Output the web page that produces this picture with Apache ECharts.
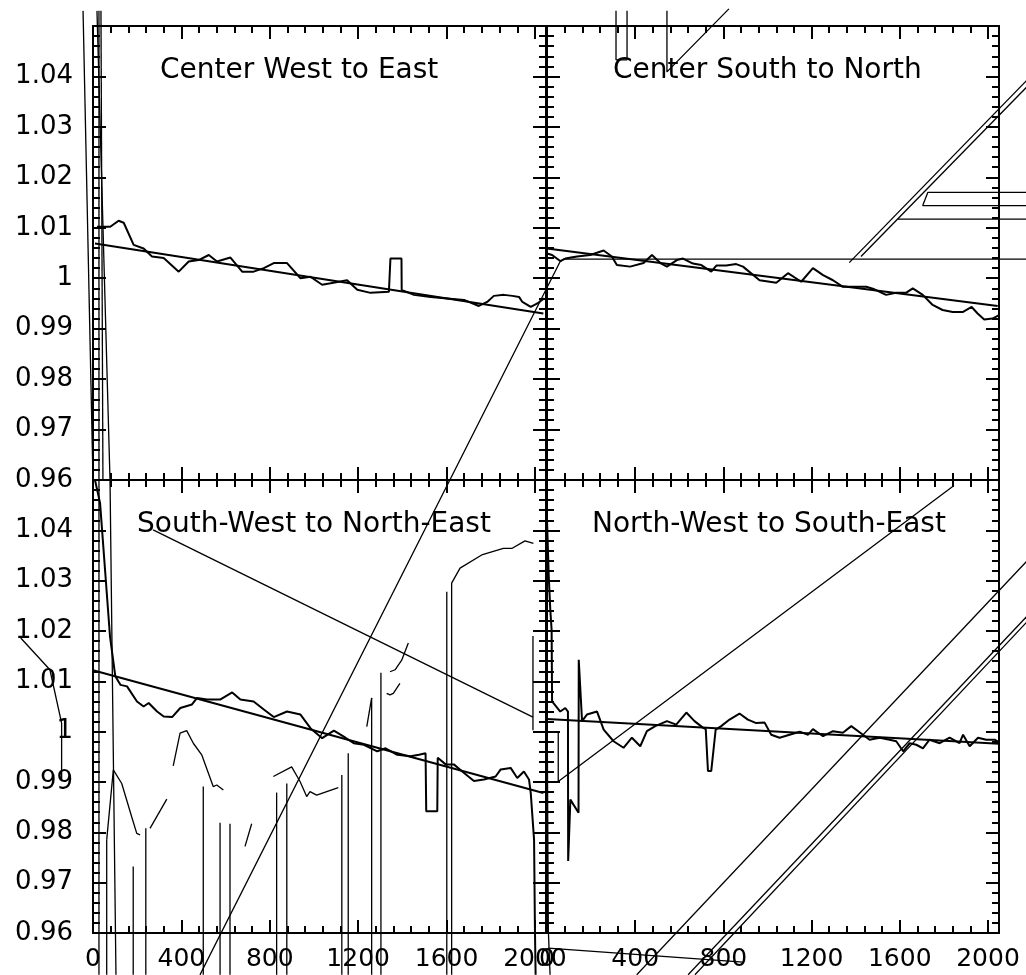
<!DOCTYPE html>
<html>
<head>
<meta charset="utf-8">
<script src="https://cdn.jsdelivr.net/npm/echarts@6/dist/echarts.min.js"></script>
<style>
  html, body { margin: 0; padding: 0; background: #fff; }
  #chart { width: 1026px; height: 975px; }
</style>
</head>
<body>
<div id="chart"></div>
<script>
// ---- axis ranges and ticks ----
const xMin = 0, xMax = 2050;
const xMajorStep = 400, xMinorStep = 80;
const yMin = 0.96, yMax = 1.05, yStep = 0.01;

// ---- panel titles ----
const titles = [
  'Center West to East',
  'Center South to North',
  'South-West to North-East',
  'North-West to South-East'
];

// ---- profiles: [position, ratio] ----
const centerWestEast = [
  [18,1.0102],[33,1.0102],[78,1.0102],[116,1.0114],[139,1.0110],[184,1.0066],[229,1.0059],
  [267,1.0043],[320,1.0040],[388,1.0013],[433,1.0033],[478,1.0036],[524,1.0046],[561,1.0033],
  [622,1.0041],[675,1.0013],[727,1.0013],[773,1.0020],[818,1.0030],[878,1.0030],[939,1.0000],
  [984,1.0003],[1037,0.9987],[1075,0.9990],[1150,0.9996],[1196,0.9977],[1256,0.9971],[1339,0.9973],
  [1345,0.9973],[1346,1.0039],[1396,1.0039],[1397,0.9977],[1452,0.9967],[1528,0.9963],[1603,0.9960],
  [1679,0.9957],[1746,0.9945],[1784,0.9953],[1814,0.9965],[1860,0.9967],[1898,0.9965],[1928,0.9963],
  [1943,0.9953],[1981,0.9943],[2011,0.9950],[2041,0.9960]
];
const centerSouthNorth = [
  [0,1.0049],[23,1.0046],[60,1.0034],[83,1.0039],[136,1.0043],[196,1.0046],[257,1.0055],[294,1.0043],
  [317,1.0026],[377,1.0023],[438,1.0030],[476,1.0046],[514,1.0030],[544,1.0023],[589,1.0036],
  [617,1.0039],[662,1.0029],[700,1.0026],[745,1.0013],[768,1.0025],[813,1.0025],[858,1.0028],
  [889,1.0023],[964,0.9996],[1010,0.9993],[1040,0.9991],[1093,1.0010],[1153,0.9993],[1206,1.0020],
  [1252,1.0006],[1297,0.9996],[1342,0.9983],[1388,0.9983],[1448,0.9983],[1485,0.9978],[1538,0.9967],
  [1583,0.9971],[1628,0.9971],[1659,0.9980],[1704,0.9967],[1749,0.9947],[1794,0.9937],[1840,0.9933],
  [1885,0.9933],[1926,0.9943],[1953,0.9930],[1983,0.9918],[2021,0.9920],[2050,0.9927]
];
const southWestNorthEast = [
  [9,1.0500],[32,1.0454],[77,1.0189],[101,1.0110],[124,1.0093],[154,1.0090],[199,1.0060],[229,1.0050],
  [252,1.0057],[290,1.0040],[320,1.0030],[358,1.0029],[395,1.0047],[448,1.0054],[471,1.0067],
  [516,1.0064],[577,1.0064],[630,1.0078],[667,1.0064],[727,1.0060],[773,1.0044],[818,1.0029],
  [878,1.0040],[939,1.0034],[984,1.0007],[1037,0.9987],[1090,1.0002],[1135,0.9990],[1180,0.9977],
  [1226,0.9974],[1286,0.9961],[1324,0.9967],[1377,0.9954],[1437,0.9951],[1475,0.9954],[1505,0.9957],
  [1508,0.9842],[1558,0.9842],[1560,0.9948],[1596,0.9935],[1633,0.9935],[1671,0.9921],[1724,0.9902],
  [1769,0.9905],[1822,0.9911],[1845,0.9925],[1890,0.9928],[1920,0.9908],[1950,0.9921],[1973,0.9905],
  [1981,0.9878],[1996,0.9785],[2000,0.9606],[2003,0.9517]
];
const northWestSouthEast = [
  [0,1.0421],[8,1.0308],[15,1.0242],[21,1.0202],[23,1.0060],[60,1.0040],[83,1.0047],[95,1.0040],[96,0.9743],
  [106,0.9865],[143,0.9839],[144,1.0143],[159,1.0021],[181,1.0034],[227,1.0040],[257,1.0004],
  [302,0.9981],[347,0.9968],[385,0.9988],[423,0.9971],[453,1.0001],[491,1.0011],[544,1.0021],
  [586,1.0014],[632,1.0038],[669,1.0021],[707,1.0008],[720,1.0005],[730,0.9922],[745,0.9922],
  [765,1.0004],[790,1.0011],[828,1.0024],[873,1.0036],[911,1.0024],[949,1.0017],[987,1.0018],
  [1017,0.9994],[1055,0.9988],[1100,0.9994],[1146,1.0000],[1184,0.9994],[1206,1.0005],[1252,0.9991],
  [1297,1.0001],[1342,0.9998],[1380,1.0011],[1433,0.9994],[1463,0.9984],[1509,0.9988],[1554,0.9984],
  [1584,0.9981],[1615,0.9961],[1645,0.9977],[1675,0.9974],[1705,0.9967],[1735,0.9984],[1781,0.9977],
  [1826,0.9988],[1871,0.9977],[1887,0.9994],[1917,0.9971],[1955,0.9988],[1992,0.9984],[2030,0.9984],
  [2050,0.9979]
];

// ---- fitted straight lines ----
const fitWestEast = [[9,1.0069],[2038,0.9930]];
const fitSouthNorth = [[0,1.0059],[2044,0.9945]];
const fitSWNE = [[0,1.0122],[2038,0.9878]];
const fitNWSE = [[0,1.0025],[2050,0.9976]];

// ---- extra traces, in each panel's own units, drawn without clipping ----
const tracesTopLeft = [
  [[-45,1.0530],[0,0.9600]],
  [[18,1.0530],[77,0.9600],[104,0.8619]],
  [[27,1.0530],[27,0.8619]],
  [[36,1.0530],[45,0.9600]],
  [[484,0.8619],[2113,1.0032],[2131,1.0038],[4300,1.0038]]
];
const tracesTopRight = [
  [[1371,1.0031],[2200,1.0403]],
  [[1424,1.0043],[2200,1.0390]],
  [[2200,1.0170],[1727,1.0170],[1704,1.0144],[2200,1.0144]],
  [[1591,1.0117],[2200,1.0117]],
  [[313,1.0530],[313,1.0433],[363,1.0433],[363,1.0530]],
  [[544,1.0530],[544,1.0409],[825,1.0534]]
];
const tracesBottomLeft = [
  [[272,1.0401],[1991,1.0029]],
  [[1991,1.0190],[1991,1.0003]],
  [[1623,0.9517],[1623,1.0295],[1661,1.0325],[1759,1.0351],[1857,1.0364],[1895,1.0364],[1955,1.0379],[1993,1.0374]],
  [[1601,1.0278],[1601,0.9517]],
  [[-327,1.0186],[-195,1.0123],[-142,1.0017],[-142,0.9904]],
  [[62,0.9785],[92,0.9924],[130,0.9897],[175,0.9831],[198,0.9798],[213,0.9795]],
  [[258,0.9808],[334,0.9866]],
  [[363,0.9932],[394,0.9997],[424,1.0002],[454,0.9977],[492,0.9954],[544,0.9891],[560,0.9894],[590,0.9884]],
  [[688,0.9772],[718,0.9817]],
  [[816,0.9911],[899,0.9930],[937,0.9901],[967,0.9871],[982,0.9881],[1012,0.9874],[1110,0.9889]],
  [[1427,1.0176],[1397,1.0142],[1367,1.0123],[1344,1.0119]],
  [[1389,1.0096],[1359,1.0076],[1344,1.0073],[1329,1.0076]],
  [[1261,1.0067],[1239,1.0010]]
];
// vertical drop lines in the lower-left panel: position and top value
const dropX   = [62, 182, 239, 499, 575, 620, 831, 877, 1126, 1155, 1261, 1303];
const dropTop = [0.9785, 0.9732, 0.9808, 0.9891, 0.9819, 0.9817, 0.9879, 0.9897, 0.9914, 0.9957, 1.0067, 1.0117];
const dropBottom = 0.9517;
const tracesBottomRight = [
  [[5,0.9570],[889,0.9542]],
  [[-1,1.0182],[6,0.9606],[14,0.9517]],
  [[51,0.9999],[51,0.9901],[1840,1.0487]],
  [[407,0.9517],[2200,1.0350]],
  [[640,0.9517],[2200,1.0240]],
  [[671,0.9517],[2200,1.0229]]
];

// ---- layout ----
const W = 1026, H = 975;
const FONT = 'DejaVu Sans';
const layout = [
  { left: 93,  top: 26,  width: 453, height: 454, xLabels: false, yLabels: true,  titleAt: [160, 57] },
  { left: 547, top: 26,  width: 452, height: 454, xLabels: false, yLabels: false, titleAt: [613, 57] },
  { left: 93,  top: 480, width: 453, height: 453, xLabels: true,  yLabels: true,  titleAt: [137, 511] },
  { left: 547, top: 480, width: 452, height: 453, xLabels: true,  yLabels: false, titleAt: [592, 511] }
];
const panelCurves = [centerWestEast, centerSouthNorth, southWestNorthEast, northWestSouthEast];
const panelFits = [fitWestEast, fitSouthNorth, fitSWNE, fitNWSE];
const panelTraces = [tracesTopLeft, tracesTopRight,
  tracesBottomLeft.concat(dropX.map((x, i) => [[x, dropTop[i]], [x, dropBottom]])),
  tracesBottomRight];

const black = { color: '#000', width: 2 };

function xAxesFor(g, showLabels) {
  const base = {
    type: 'value', gridIndex: g, min: xMin, max: xMax,
    splitLine: { show: false },
    axisLine: { show: true, onZero: false, lineStyle: black }
  };
  const major = { inside: true, length: 13, lineStyle: black };
  const minor = { inside: true, length: 7, lineStyle: black };
  return [
    Object.assign({}, base, {
      position: 'bottom', interval: xMajorStep, axisTick: major,
      axisLabel: {
        show: showLabels, margin: 14, color: '#000', fontFamily: FONT, fontSize: 25,
        formatter: v => (v % xMajorStep === 0 ? String(v) : '')
      }
    }),
    Object.assign({}, base, { position: 'bottom', interval: xMinorStep, axisLine: { show: false, onZero: false }, axisTick: minor, axisLabel: { show: false } }),
    Object.assign({}, base, { position: 'top', interval: xMajorStep, axisTick: major, axisLabel: { show: false } }),
    Object.assign({}, base, { position: 'top', interval: xMinorStep, axisLine: { show: false, onZero: false }, axisTick: minor, axisLabel: { show: false } })
  ];
}

function yAxesFor(g, showLabels) {
  const base = {
    type: 'value', gridIndex: g, min: yMin, max: yMax, interval: yStep,
    splitLine: { show: false },
    axisLine: { show: true, onZero: false, lineStyle: black },
    axisTick: { inside: true, length: 13, lineStyle: black },
    minorTick: { show: true, splitNumber: 5, length: 7, lineStyle: black }
  };
  return [
    Object.assign({}, base, {
      position: 'left',
      axisLabel: {
        show: showLabels, margin: 20, color: '#000', fontFamily: FONT, fontSize: 26,
        formatter: v => (v > yMax - yStep / 2 ? '' : String(Math.round(v * 100) / 100))
      }
    }),
    Object.assign({}, base, { position: 'right', axisLabel: { show: false } })
  ];
}

// Each panel also gets a hidden full-page coordinate system carrying the same
// scale, so the extra traces can run past the frame edges.
function overlayAxes(p, g) {
  const kx = (xMax - xMin) / p.width;
  const ky = (yMax - yMin) / p.height;
  return {
    grid: { left: 0, top: 0, width: W, height: H, containLabel: false, outerBoundsMode: 'none' },
    x: { type: 'value', gridIndex: 4 + g, show: false, min: xMin - p.left * kx, max: xMin + (W - p.left) * kx },
    y: { type: 'value', gridIndex: 4 + g, show: false, min: yMin - (H - p.top - p.height) * ky, max: yMax + p.top * ky }
  };
}

function line(xi, yi, data, width) {
  return {
    type: 'line', xAxisIndex: xi, yAxisIndex: yi, data: data,
    symbol: 'none', showSymbol: false, clip: false, silent: true,
    lineStyle: { color: '#000', width: width }, z: 3
  };
}

const overlays = layout.map(overlayAxes);

const option = {
  animation: false,
  backgroundColor: '#fff',
  title: layout.map((p, g) => ({
    text: titles[g], left: p.titleAt[0], top: p.titleAt[1], padding: 0,
    textStyle: { fontFamily: FONT, fontSize: 28, fontWeight: 'normal', color: '#000' }
  })),
  grid: layout.map(p => ({ left: p.left, top: p.top, width: p.width, height: p.height, containLabel: false, outerBoundsMode: 'none' }))
    .concat(overlays.map(o => o.grid)),
  xAxis: [].concat(...layout.map((p, g) => xAxesFor(g, p.xLabels))).concat(overlays.map(o => o.x)),
  yAxis: [].concat(...layout.map((p, g) => yAxesFor(g, p.yLabels))).concat(overlays.map(o => o.y)),
  series: []
};

layout.forEach((p, g) => {
  const ox = 16 + g, oy = 8 + g;
  panelTraces[g].forEach(tr => option.series.push(line(ox, oy, tr, 1.3)));
  option.series.push(line(4 * g, 2 * g, panelFits[g], 2));
  option.series.push(line(ox, oy, panelCurves[g], 2));
});

const chart = echarts.init(document.getElementById('chart'), null, { renderer: 'canvas' });
chart.setOption(option);
</script>
</body>
</html>
